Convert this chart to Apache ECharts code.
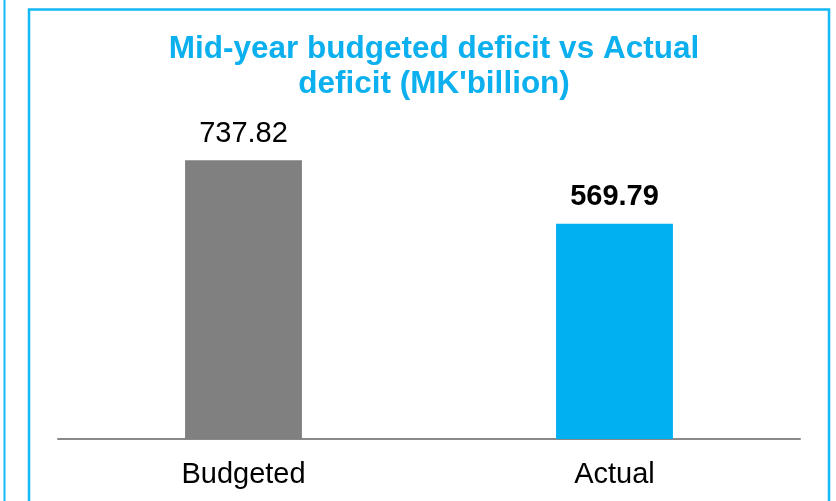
<!DOCTYPE html>
<html>
<head>
<meta charset="utf-8">
<script src="https://cdn.jsdelivr.net/npm/echarts@6/dist/echarts.min.js"></script>
<style>
  html, body { margin: 0; padding: 0; background: #fff; }
  #chart { width: 836px; height: 501px; }
</style>
</head>
<body>
<div id="chart"></div>
<script>
// Mid-year deficit: budgeted vs actual, MK billion
const categories = ['Budgeted', 'Actual'];
const deficitValues = [737.82, 569.79];
const barColors = ['#808080', '#00B0F0'];
const labelWeights = ['normal', 'bold'];

const FONT = '"Liberation Sans", Arial, sans-serif';
const frameColor = '#12B9F2';

const chart = echarts.init(document.getElementById('chart'), null, { renderer: 'canvas' });

chart.setOption({
  animation: false,
  title: {
    text: "Mid-year budgeted deficit vs Actual\ndeficit (MK'billion)",
    left: 429,
    textAlign: 'center',
    top: 27,
    textStyle: {
      fontFamily: FONT,
      fontSize: 31.5,
      fontWeight: 'bold',
      color: '#0DB0EE',
      lineHeight: 35
    }
  },
  grid: { left: 58, right: 36, top: 99, bottom: 62 },
  xAxis: {
    type: 'category',
    data: categories,
    axisTick: { show: false },
    axisLine: { lineStyle: { color: '#898989', width: 2 } },
    axisLabel: {
      color: '#000',
      fontSize: 29,
      fontFamily: FONT,
      margin: 21
    }
  },
  yAxis: {
    type: 'value',
    min: 0,
    max: 900,
    show: false,
    splitLine: { show: false }
  },
  series: [{
    type: 'bar',
    barWidth: '31.5%',
    data: deficitValues.map((v, i) => ({
      value: v,
      itemStyle: { color: barColors[i] },
      label: { fontWeight: labelWeights[i] }
    })),
    label: {
      show: true,
      position: 'top',
      distance: 12,
      color: '#000',
      fontSize: 29,
      fontFamily: FONT,
      formatter: p => p.value.toFixed(2)
    }
  }],
  graphic: [
    // edge of the neighbouring panel
    { type: 'rect', shape: { x: 4.5, y: -5, width: 0, height: 520 },
      style: { fill: 'none', stroke: frameColor, lineWidth: 2 } },
    // panel frame
    { type: 'rect', shape: { x: 29, y: 9.5, width: 800, height: 520 },
      style: { fill: 'none', stroke: frameColor, lineWidth: 2.5 } }
  ]
});
</script>
</body>
</html>
